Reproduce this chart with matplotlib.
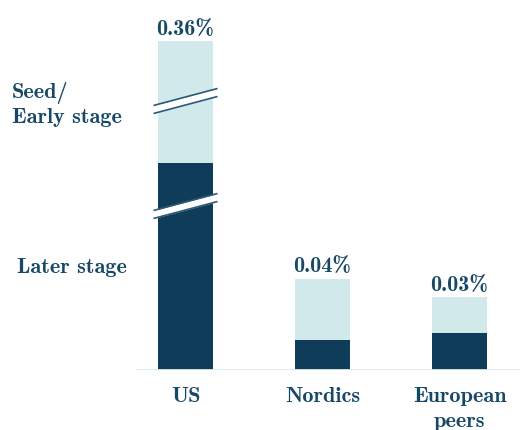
import numpy as np
import matplotlib
matplotlib.use("Agg")
import matplotlib.pyplot as plt

# venture investment as share of GDP, split by stage
regions = ["US", "Nordics", "European\npeers"]
later_stage = [0.25, 0.013, 0.016]
seed_stage = [0.11, 0.026, 0.015]

NAVY = "#0f3d59"
LIGHT = "#d1e9eb"
TEXT = "#174866"
FONT = "cmb10"
FS = 16

# broken y axis: piecewise linear mapping value -> pixels above the baseline
knots_v = np.array([0.0, 0.07, 0.25, 0.30, 0.36])
knots_p = np.array([0.0, 164.0, 207.0, 269.0, 329.0])
breaks = [0.07, 0.30]


def forward(v):
    v = np.asarray(v, dtype=float)
    out = np.interp(v, knots_v, knots_p)
    lo = knots_p[1] / knots_v[1]
    hi = (knots_p[-1] - knots_p[-2]) / (knots_v[-1] - knots_v[-2])
    out = np.where(v < 0, v * lo, out)
    out = np.where(v > knots_v[-1], knots_p[-1] + (v - knots_v[-1]) * hi, out)
    return out


def inverse(p):
    p = np.asarray(p, dtype=float)
    out = np.interp(p, knots_p, knots_v)
    lo = knots_p[1] / knots_v[1]
    hi = (knots_p[-1] - knots_p[-2]) / (knots_v[-1] - knots_v[-2])
    out = np.where(p < 0, p / lo, out)
    out = np.where(p > knots_p[-1], knots_v[-1] + (p - knots_p[-1]) / hi, out)
    return out


W, H = 520, 430
base_px = 370
fig = plt.figure(figsize=(W / 100, H / 100), dpi=100)
ax = fig.add_axes([0, (H - base_px) / H, 1, base_px / H])
ax.set_yscale("function", functions=(forward, inverse))

x = np.arange(len(regions))
step = 137.0
x0 = 185.5
ax.set_xlim(-x0 / step, (W - x0) / step)
ax.set_ylim(0, float(inverse(base_px)))

bw = 55 / step
later = np.array(later_stage)
seed = np.array(seed_stage)
ax.bar(x, later, width=bw, color=NAVY, zorder=2)
ax.bar(x, seed, width=bw, bottom=later, color=LIGHT, zorder=2)

ax.axhline(0, xmin=137 / W, xmax=1, color="#d8edef", lw=2, zorder=3)

# totals above bars
for xi, tot in zip(x, later + seed):
    ax.annotate(f"{tot:.2f}%", (xi, tot), xytext=(0, 1.5), textcoords="offset points",
                ha="center", va="bottom", fontsize=FS, color=TEXT, family=FONT)

# break marks on the US bar
half = 32 / step
for b in breaks:
    c = float(forward(b))
    xs = np.array([-half, half])
    lower = c + np.array([-8.5, 8.5]) - 4
    upper = c + np.array([-8.5, 8.5]) + 4
    ax.fill_between(xs, inverse(lower), inverse(upper), color="white", lw=0, zorder=4)
    ax.plot(xs, inverse(lower), color="#2b5977", lw=1.2, zorder=5, solid_capstyle="butt")
    ax.plot(xs, inverse(upper), color="#2b5977", lw=1.2, zorder=5, solid_capstyle="butt")

# stage labels, centred on the US segments
y_later = float(inverse(forward(later[0]) / 2))
y_seed = float(inverse((forward(later[0]) + forward(later[0] + seed[0])) / 2))
tr = ax.get_yaxis_transform()
ax.annotate("Seed/\nEarly stage", (12 / W, y_seed), xycoords=tr, xytext=(0, -2),
            textcoords="offset points", ha="left", va="center",
            fontsize=FS, color=TEXT, family=FONT, linespacing=1.25)
ax.annotate("Later stage", (17 / W, y_later), xycoords=tr, xytext=(0, -1),
            textcoords="offset points", ha="left", va="center",
            fontsize=FS, color=TEXT, family=FONT)

ax.set_xticks(x)
ax.set_xticklabels(regions, fontsize=FS, color=TEXT, family=FONT, linespacing=1.45)
ax.tick_params(axis="x", length=0, pad=12)
ax.set_yticks([])
ax.yaxis.set_minor_locator(matplotlib.ticker.NullLocator())
for s in ax.spines.values():
    s.set_visible(False)

fig.savefig("out.png", dpi=100)
